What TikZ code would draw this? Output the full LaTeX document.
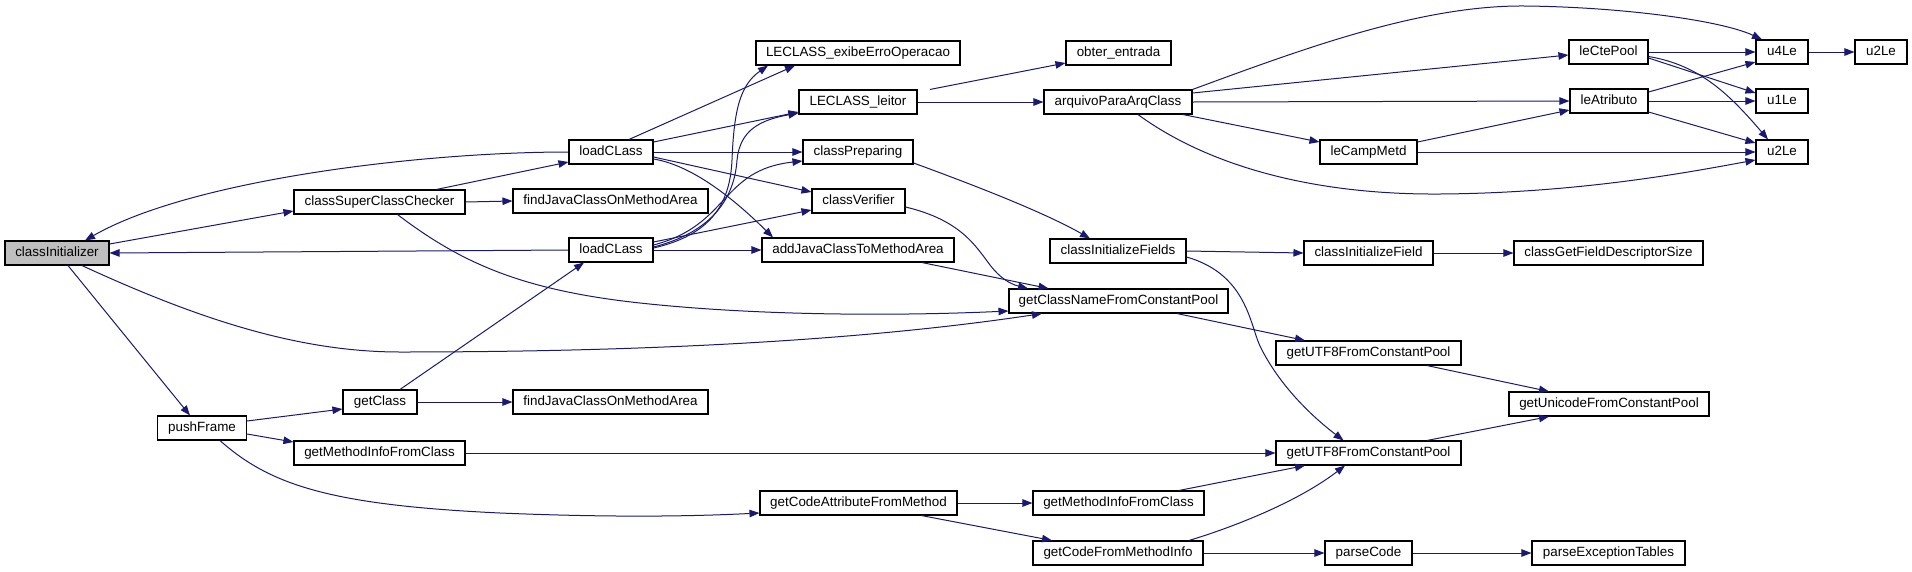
\documentclass[tikz,border=0pt]{standalone}
\usepackage{fontspec}
\setmainfont{Liberation Sans}
\usetikzlibrary{arrows.meta,calc}
\definecolor{edgec}{HTML}{191970}
\definecolor{rootfill}{HTML}{BFBFBF}
\begin{document}
\begin{tikzpicture}[x=1pt,y=-1pt,
  box/.style={draw=black,line width=1.1pt,fill=white,rectangle,inner sep=0pt,minimum height=24pt,
    font=\fontsize{13.4}{15}\selectfont,text height=9.6pt,text depth=2.8pt},
  e/.style={draw=edgec,line width=1pt,-{Triangle[length=10pt,width=7.5pt]}}]
\path[use as bounding box] (0,0) rectangle (1912,571);
% nodes
\node[box,fill=rootfill,minimum width=104pt] (ci) at (57,253) {classInitializer};
\node[box,minimum width=171pt] (cscc) at (379.5,202) {classSuperClassChecker};
\node[box,minimum width=84pt] (lt) at (611,152) {loadCLass};
\node[box,minimum width=84pt] (lb) at (611,250) {loadCLass};
\node[box,minimum width=195pt] (ft) at (610.5,201) {findJavaClassOnMethodArea};
\node[box,minimum width=195pt] (fb) at (610.5,402) {findJavaClassOnMethodArea};
\node[box,minimum width=204pt] (le) at (858,53) {LECLASS\_exibeErroOperacao};
\node[box,minimum width=105pt] (oe) at (1118.5,53) {obter\_entrada};
\node[box,minimum width=118pt] (ll) at (858,102) {LECLASS\_leitor};
\node[box,minimum width=148pt] (apc) at (1118,102) {arquivoParaArqClass};
\node[box,minimum width=110pt] (cp) at (858,152) {classPreparing};
\node[box,minimum width=93pt] (cv) at (858.5,201) {classVerifier};
\node[box,minimum width=192pt] (aj) at (858,250) {addJavaClassToMethodArea};
\node[box,minimum width=136pt] (cif) at (1118,251) {classInitializeFields};
\node[box,minimum width=79pt] (lcp) at (1608.5,52) {leCtePool};
\node[box,minimum width=52pt] (u4) at (1782,52) {u4Le};
\node[box,minimum width=52pt] (u2f) at (1881,52) {u2Le};
\node[box,minimum width=78pt] (la) at (1609,101) {leAtributo};
\node[box,minimum width=52pt] (u1) at (1782,101) {u1Le};
\node[box,minimum width=97pt] (lcm) at (1368.5,152) {leCampMetd};
\node[box,minimum width=52pt] (u2m) at (1782,152) {u2Le};
\node[box,minimum width=129pt] (cifd) at (1368.5,253) {classInitializeField};
\node[box,minimum width=189pt] (cgfds) at (1608.5,253) {classGetFieldDescriptorSize};
\node[box,minimum width=89pt] (pf) at (202,428) {pushFrame};
\node[box,minimum width=74pt] (gc) at (380,402) {getClass};
\node[box,minimum width=171pt] (gm1) at (379.5,453) {getMethodInfoFromClass};
\node[box,minimum width=219pt] (gcn) at (1118.5,301) {getClassNameFromConstantPool};
\node[box,minimum width=197pt] (gca) at (858.5,503) {getCodeAttributeFromMethod};
\node[box,minimum width=171pt] (gm2) at (1118.5,503) {getMethodInfoFromClass};
\node[box,minimum width=170pt] (gcf) at (1118,553) {getCodeFromMethodInfo};
\node[box,minimum width=185pt] (gu1) at (1368.5,353) {getUTF8FromConstantPool};
\node[box,minimum width=200pt] (gun) at (1609,404) {getUnicodeFromConstantPool};
\node[box,minimum width=185pt] (gu2) at (1368.5,453) {getUTF8FromConstantPool};
\node[box,minimum width=87pt] (pc) at (1368.5,553) {parseCode};
\node[box,minimum width=153pt] (pet) at (1608.5,553) {parseExceptionTables};
% connectors
\draw[e] ([yshift=9pt]ci.east) -- ([yshift=-9pt]cscc.west);
\draw[e] (lt.west) .. controls (420,152) and (190,180) .. ([xshift=28pt]ci.north);
\draw[e] (lb.west) -- (ci.east);
\draw[e] ([xshift=11pt]ci.south) -- ([xshift=-12pt]pf.north);
\draw[e] ([xshift=25pt]ci.south) .. controls (200,320) and (300,352) .. (400,352)
   .. controls (700,352) and (900,335) .. ([xshift=-76.5pt]gcn.south);
\draw[e] ([xshift=57pt]cscc.north) -- ([yshift=-10pt]lt.west);
\draw[e] (cscc.east) -- (ft.west);
\draw[e] ([xshift=18pt]cscc.south) .. controls (460,262) and (520,290) .. (640,303)
   .. controls (760,316) and (900,316) .. ([yshift=-10pt]gcn.west);
\draw[e] ([xshift=18pt]lt.north) -- ([xshift=-63pt]le.south);
\draw[e] ([yshift=10pt]lt.east) -- ([yshift=-10pt]ll.west);
\draw[e] (lt.east) -- (cp.west);
\draw[e] ([yshift=-5pt]lt.east) -- ([yshift=9pt]cv.west);
\draw[e] ([yshift=-7pt]lt.east) .. controls (690,165) and (730,195) .. ([xshift=-85pt]aj.north);
\draw[e] ([yshift=2pt]lb.east) .. controls (710,235) and (730,205) .. (732,160)
   .. controls (734,110) and (740,85) .. ([xshift=-90pt]le.south);
\draw[e] ([yshift=3pt]lb.east) .. controls (720,230) and (735,190) .. (737,160)
   .. controls (740,130) and (760,120) .. ([yshift=-11pt]ll.west);
\draw[e] ([yshift=5pt]lb.east) .. controls (730,225) and (720,170) .. ([yshift=-9pt]cp.west);
\draw[e] ([yshift=8pt]lb.east) -- ([yshift=-9pt]cv.west);
\draw[e] (lb.east) -- (aj.west);
\draw[e] ([xshift=20pt]gc.north) -- ([xshift=-27pt]lb.south);
\draw[e] (gc.east) -- (fb.west);
\draw[e] ([yshift=7pt]pf.east) -- ([yshift=-7pt]gc.west);
\draw[e] ([yshift=-6pt]pf.east) -- ([yshift=11pt]gm1.west);
\draw[e] ([xshift=18pt]pf.south) .. controls (270,485) and (330,505) .. (500,513)
   .. controls (620,518) and (700,516) .. ([yshift=-10pt]gca.west);
\draw[e] (gm1.east) -- (gu2.west);
\draw[e] (gca.east) -- (gm2.west);
\draw[e] ([xshift=63pt]gca.south) -- ([xshift=-66pt]gcf.north);
\draw[e] ([xshift=60.5pt]gm2.north) -- ([xshift=-63.5pt]gu2.south);
\draw[e] ([xshift=71pt]gcf.north) .. controls (1240,525) and (1300,500) .. ([xshift=-23.5pt]gu2.south);
\draw[e] (gcf.east) -- (pc.west);
\draw[e] (pc.east) -- (pet.west);
\draw[e] ([xshift=58.5pt]gcn.south) -- ([xshift=-63.5pt]gu1.north);
\draw[e] ([yshift=-6pt]cif.east) .. controls (1250,275) and (1250,330) .. (1262,350)
   .. controls (1280,385) and (1310,415) .. ([xshift=-25pt]gu2.north);
\draw[e] (cif.east) -- (cifd.west);
\draw[e] (cifd.east) -- (cgfds.west);
\draw[e] ([yshift=-11pt]cp.east) .. controls (960,180) and (1040,210) .. ([xshift=-28pt]cif.north);
\draw[e] ([yshift=-6pt]cv.east) .. controls (960,220) and (975,245) .. (990,265)
   .. controls (1000,278) and (1010,284) .. ([xshift=-90.5pt]gcn.north);
\draw[e] ([xshift=64pt]aj.south) -- ([xshift=-70pt]gcn.north);
\draw[e] ([xshift=72pt]ll.north) -- ([yshift=-10pt]oe.west);
\draw[e] (ll.east) -- (apc.west);
\draw[e] (apc.north east) .. controls (1300,50) and (1420,5) .. (1525,6)
   .. controls (1620,7) and (1720,20) .. ([xshift=-20pt]u4.north);
\draw[e] ([yshift=9pt]apc.east) -- ([yshift=-3pt]lcp.west);
\draw[e] (apc.east) -- (la.west);
\draw[e] ([xshift=65pt]apc.south) -- ([yshift=10pt]lcm.west);
\draw[e] ([xshift=20pt]apc.south) .. controls (1200,160) and (1300,195) .. (1440,194)
   .. controls (1580,193) and (1690,172) .. ([yshift=-8pt]u2m.west);
\draw[e] (lcp.east) -- (u4.west);
\draw[e] ([yshift=-6pt]lcp.east) -- ([yshift=8pt]u1.west);
\draw[e] ([yshift=-4.5pt]lcp.east) .. controls (1700,65) and (1730,95) .. ([xshift=-14pt]u2m.north);
\draw[e] ([yshift=9pt]la.east) -- ([yshift=-10pt]u4.west);
\draw[e] (la.east) -- (u1.west);
\draw[e] ([yshift=-11pt]la.east) -- ([yshift=9pt]u2m.west);
\draw[e] ([yshift=10pt]lcm.east) -- ([yshift=-9pt]la.west);
\draw[e] (lcm.east) -- (u2m.west);
\draw[e] (u4.east) -- (u2f.west);
\draw[e] ([xshift=58.5pt]gu1.south) -- ([xshift=-60pt]gun.north);
\draw[e] ([xshift=58.5pt]gu2.north) -- ([xshift=-60pt]gun.south);
\end{tikzpicture}
\end{document}
